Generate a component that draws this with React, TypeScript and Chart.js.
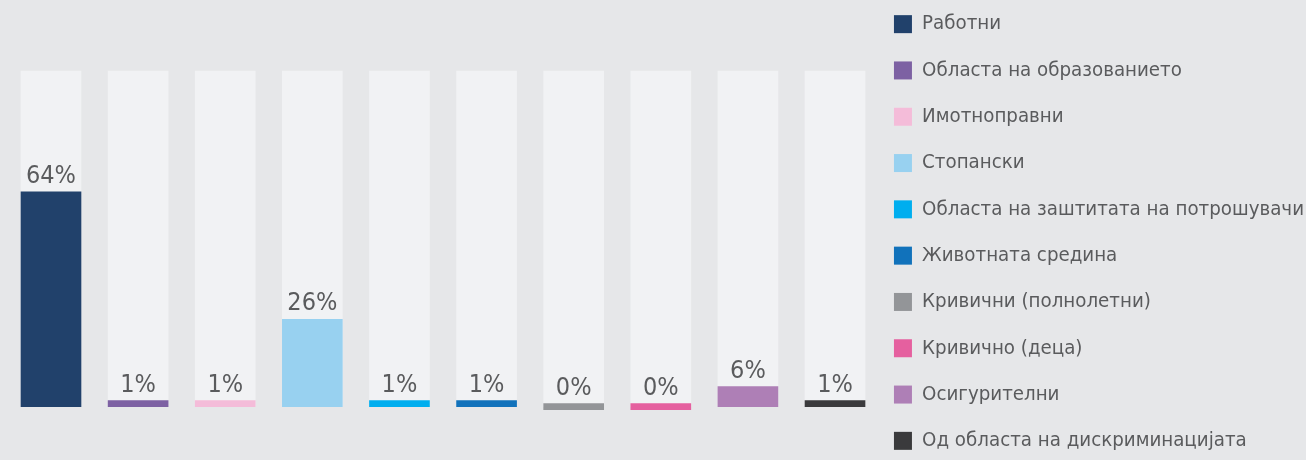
import React, { useEffect, useRef } from "react";
import { Chart, registerables } from "chart.js";

Chart.register(...registerables);

const categories = [
  "Работни",
  "Областа на образованието",
  "Имотноправни",
  "Стопански",
  "Областа на заштитата на потрошувачи",
  "Животната средина",
  "Кривични (полнолетни)",
  "Кривично (деца)",
  "Осигурителни",
  "Од областа на дискриминацијата",
];
const shares = [64, 1, 1, 26, 1, 1, 0, 0, 6, 1];
const valueLabels = ["64%", "1%", "1%", "26%", "1%", "1%", "0%", "0%", "6%", "1%"];
const barColors = [
  "#21416b",
  "#7d61a3",
  "#f4bcd9",
  "#98d1f0",
  "#00aeef",
  "#1172bb",
  "#939598",
  "#e5609f",
  "#ae7fb6",
  "#3a3a3c",
];
const trackValue = 100;

const FONT = "'DejaVu Sans Condensed', 'DejaVu Sans', sans-serif";
const TEXT = "#5a5b5d";
const PAGE_BG = "#e6e7e9";
const TRACK_BG = "#f1f2f4";

const valueLabelPlugin = {
  id: "valueLabels",
  afterDatasetsDraw(chart: any) {
    const meta = chart.getDatasetMeta(0);
    const ctx = chart.ctx;
    ctx.save();
    ctx.font = `25px ${FONT}`;
    ctx.fillStyle = TEXT;
    ctx.textAlign = "center";
    ctx.textBaseline = "alphabetic";
    meta.data.forEach((bar: any, i: number) => {
      const top = Math.min(bar.y, bar.base);
      ctx.fillText(valueLabels[i], bar.x, top - 9);
    });
    ctx.restore();
  },
};

export default function App() {
  const ref = useRef<HTMLCanvasElement>(null);

  useEffect(() => {
    if (!ref.current) return;
    const chart = new Chart(ref.current, {
      type: "bar",
      data: {
        datasets: [
          {
            data: shares.map((v, i) => ({ x: i, y: v })),
            backgroundColor: barColors,
            grouped: false,
            barThickness: 60,
            minBarLength: 6,
            borderWidth: 0,
          } as any,
          {
            data: shares.map((_, i) => ({ x: i, y: trackValue })),
            backgroundColor: TRACK_BG,
            grouped: false,
            barThickness: 60,
            borderWidth: 0,
          } as any,
        ],
      },
      options: {
        animation: false,
        responsive: true,
        maintainAspectRatio: false,
        layout: { padding: 0 },
        scales: {
          x: {
            type: "linear",
            display: false,
            offset: false,
            min: -0.5855,
            max: 9.378,
            ticks: { stepSize: 1, includeBounds: false },
            grid: { display: false },
          },
          y: {
            display: false,
            min: -27.22,
            max: 124.75,
            grid: { display: false },
          },
        },
        plugins: {
          tooltip: { enabled: false },
          legend: {
            display: true,
            position: "right",
            align: "start",
            onClick: () => {},
            labels: {
              font: { family: FONT, size: 20.3 },
              color: TEXT,
              boxWidth: 18,
              boxHeight: 18,
              padding: 26,
              generateLabels: () =>
                categories.map((c, i) => ({
                  text: c,
                  fillStyle: barColors[i],
                  strokeStyle: barColors[i],
                  lineWidth: 0,
                  hidden: false,
                  index: i,
                  datasetIndex: 0,
                  fontColor: TEXT,
                })),
            },
          },
        },
      },
      plugins: [valueLabelPlugin],
    } as any);
    return () => chart.destroy();
  }, []);

  return (
    <div
      style={{
        position: "fixed",
        left: 0,
        top: 0,
        width: 1306,
        height: 460,
        overflow: "hidden",
        background: PAGE_BG,
      }}
    >
      <div style={{ position: "absolute", left: 0, top: -12.15, width: 1314, height: 510 }}>
        <canvas ref={ref} />
      </div>
    </div>
  );
}
